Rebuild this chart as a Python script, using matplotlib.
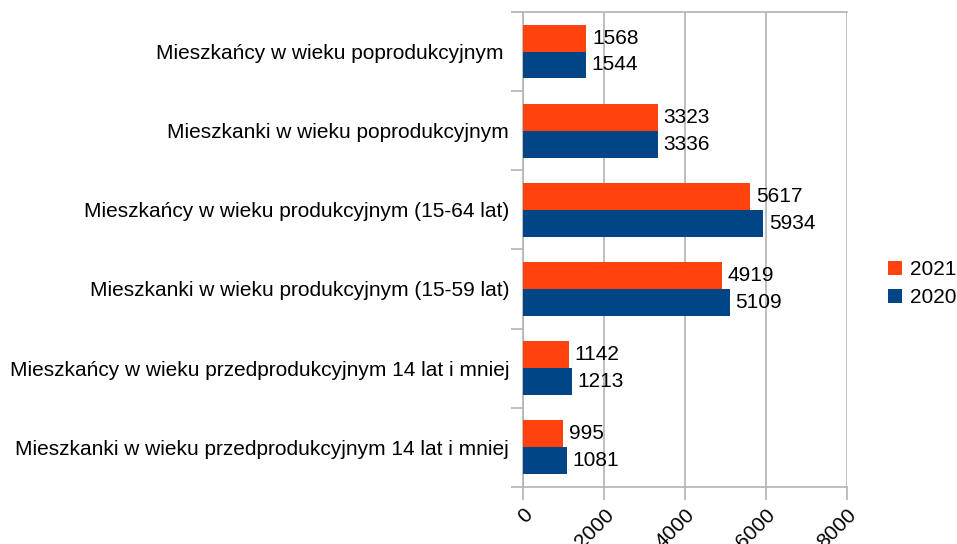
import matplotlib
matplotlib.use("Agg")
import matplotlib.pyplot as plt
import numpy as np

plt.rcParams['font.family'] = ['Liberation Sans', 'DejaVu Sans']

kategorie = [
    "Mieszkańcy w wieku poprodukcyjnym ",
    "Mieszkanki w wieku poprodukcyjnym",
    "Mieszkańcy w wieku produkcyjnym (15-64 lat)",
    "Mieszkanki w wieku produkcyjnym (15-59 lat)",
    "Mieszkańcy w wieku przedprodukcyjnym 14 lat i mniej",
    "Mieszkanki w wieku przedprodukcyjnym 14 lat i mniej",
]
wartosci_2021 = [1568, 3323, 5617, 4919, 1142, 995]
wartosci_2020 = [1544, 3336, 5934, 5109, 1213, 1081]

kolor_2021 = "#ff420e"
kolor_2020 = "#004586"
szary = "#b3b3b3"
fs = 15

fig = plt.figure(figsize=(9.57, 5.44), dpi=100)
ax = fig.add_axes([0.5465, 0.105, 0.3385, 0.873])

y = np.arange(len(kategorie))
h = 0.34
b1 = ax.barh(y - h / 2, wartosci_2021, height=h, color=kolor_2021, label="2021", zorder=3)
b2 = ax.barh(y + h / 2, wartosci_2020, height=h, color=kolor_2020, label="2020", zorder=3)
ax.bar_label(b1, padding=4, fontsize=fs)
ax.bar_label(b2, padding=4, fontsize=fs)

ax.set_ylim(len(kategorie) - 0.5, -0.5)
ax.set_xlim(0, 8000)
ax.set_xticks([0, 2000, 4000, 6000, 8000])
ax.set_xticklabels(["0", "2000", "4000", "6000", "8000"], rotation=45, ha="right",
                   rotation_mode="anchor", fontsize=fs)

# etykiety kategorii w srodku, kreski na granicach
ax.set_yticks(y)
ax.set_yticklabels(kategorie, fontsize=fs)
ax.tick_params(axis="y", which="major", length=0, pad=10)
ax.set_yticks(np.arange(len(kategorie) + 1) - 0.5, minor=True)
ax.tick_params(axis="y", which="minor", length=9, color=szary, width=1.2)
ax.tick_params(axis="x", length=9, color=szary, width=1.2, pad=4)

ax.grid(axis="x", color=szary, linewidth=1.2, zorder=0)
for s in ["left", "bottom", "top"]:
    ax.spines[s].set_color(szary)
    ax.spines[s].set_linewidth(1.2)
ax.spines["right"].set_visible(False)

ax.legend(loc="center left", bbox_to_anchor=(1.095, 0.428), frameon=False,
          fontsize=fs, handlelength=0.65, handleheight=0.65, handletextpad=0.4,
          labelspacing=0.45, borderpad=0)

fig.savefig("out.png", dpi=100)
